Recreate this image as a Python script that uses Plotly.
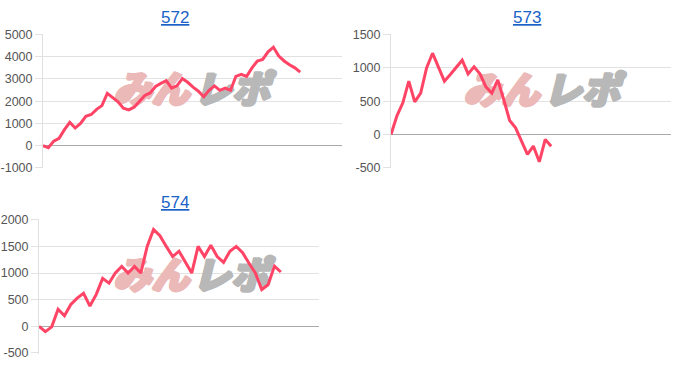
import plotly.graph_objects as go

# ---- data ----
titles = ["572", "573", "574"]

values_572 = [0, -100, 200, 330, 720, 1050, 790, 1000, 1320, 1400, 1630, 1800,
              2350, 2160, 1970, 1680, 1610, 1730, 2010, 2260, 2370, 2660, 2800,
              2920, 2590, 2690, 3020, 2850, 2630, 2450, 2200, 2490, 2690, 2490,
              2590, 2490, 3120, 3210, 3120, 3500, 3810, 3880, 4220, 4430, 4030,
              3810, 3640, 3500, 3310]

values_573 = [0, 280, 475, 800, 490, 620, 1000, 1220, 1010, 800, 900, 1000,
              1115, 910, 1015, 910, 715, 620, 820, 525, 210, 100, -100, -300,
              -175, -410, -75, -175]

values_574 = [0, -100, -10, 320, 200, 410, 530, 620, 380, 600, 900, 810, 1000,
              1125, 1000, 1125, 1000, 1500, 1820, 1700, 1500, 1310, 1410, 1200,
              1000, 1500, 1310, 1520, 1310, 1200, 1410, 1500, 1380, 1185, 1000,
              690, 780, 1130, 1020]

ticks_572 = [-1000, 0, 1000, 2000, 3000, 4000, 5000]
ticks_573 = [-500, 0, 500, 1000, 1500]
ticks_574 = [-500, 0, 500, 1000, 1500, 2000]

watermark_parts = ["みん", "レポ"]

# ---- styling / layout ----
W, H = 700, 384
LINE = "#ff4466"
GRID = "#e2e2e2"
ZERO = "#aaaaaa"
TICKFONT = dict(family="Liberation Sans, Arial, sans-serif", size=12.5, color="#555555")
WM_COLORS = ["#ecb9b9", "#b8b8b8"]


def thick(c):
    return ", ".join("%dpx %dpx 0 %s" % (dx, dy, c)
                     for dx, dy in [(1, 0), (-1, 0), (0, 1), (0, -1), (1, 1), (-1, -1), (2, 0)])


panels = [
    dict(v=values_572, t=ticks_572, yr=[-1000, 5000], xmax=55.8, px=(43, 342), py=(29, 168),
         wx=[20.2, 35.2], wy=2330, tx=175),
    dict(v=values_573, t=ticks_573, yr=[-500, 1500], xmax=47.2, px=(391, 671), py=(29, 168),
         wx=[18.6, 32.1], wy=605, tx=527),
    dict(v=values_574, t=ticks_574, yr=[-500, 2000], xmax=44.0, px=(39, 319), py=(220.7, 359.7),
         wx=[17.6, 30.1], wy=880, tx=175),
]

fig = go.Figure()
layout = dict(width=W, height=H, margin=dict(l=0, r=0, t=0, b=0),
              paper_bgcolor="white", plot_bgcolor="white", showlegend=False,
              annotations=[])

for i, p in enumerate(panels):
    sfx = "" if i == 0 else str(i + 1)
    xa, ya = "x" + sfx, "y" + sfx
    # watermark (beneath the line)
    for k in range(2):
        fig.add_trace(go.Scatter(
            x=[p["wx"][k]], y=[p["wy"]], mode="text", text=[watermark_parts[k]],
            textfont=dict(family="Noto Sans CJK JP", size=38, style="italic", weight=900,
                          color=WM_COLORS[k], shadow=thick(WM_COLORS[k])),
            xaxis=xa, yaxis=ya, hoverinfo="skip"))
    fig.add_trace(go.Scatter(
        x=list(range(len(p["v"]))), y=p["v"], mode="lines",
        line=dict(color=LINE, width=3), xaxis=xa, yaxis=ya, hoverinfo="skip"))

    x0, x1 = p["px"]
    ytop, ybot = p["py"]
    span = p["yr"][1] - p["yr"][0]
    eps = span * 0.004
    layout["xaxis" + sfx] = dict(domain=[x0 / W, x1 / W], range=[0, p["xmax"]],
                                  showgrid=False, zeroline=False, showticklabels=False,
                                  showline=False, anchor=ya, fixedrange=True)
    layout["yaxis" + sfx] = dict(domain=[1 - ybot / H, 1 - ytop / H],
                                  range=[p["yr"][0] - eps, p["yr"][1] + eps],
                                  tickvals=p["t"], ticktext=[str(t) for t in p["t"]],
                                  showgrid=True, gridcolor=GRID, gridwidth=1,
                                  zeroline=True, zerolinecolor=ZERO, zerolinewidth=1,
                                  showline=True, linecolor="#e0e0e0", linewidth=1,
                                  tickfont=TICKFONT, ticks="outside", ticklen=7,
                                  tickcolor=GRID, ticklabelstandoff=0,
                                  anchor=xa, fixedrange=True)
    layout["annotations"].append(dict(
        text="<u>%s</u>" % titles[i], x=p["tx"] / W,
        y=1 - (ytop - 17) / H, xref="paper", yref="paper", showarrow=False,
        xanchor="center", yanchor="middle",
        font=dict(family="Liberation Sans, Arial, sans-serif", size=17, color="#1a62c6")))

fig.update_layout(**layout)
fig.write_html("out.html")
